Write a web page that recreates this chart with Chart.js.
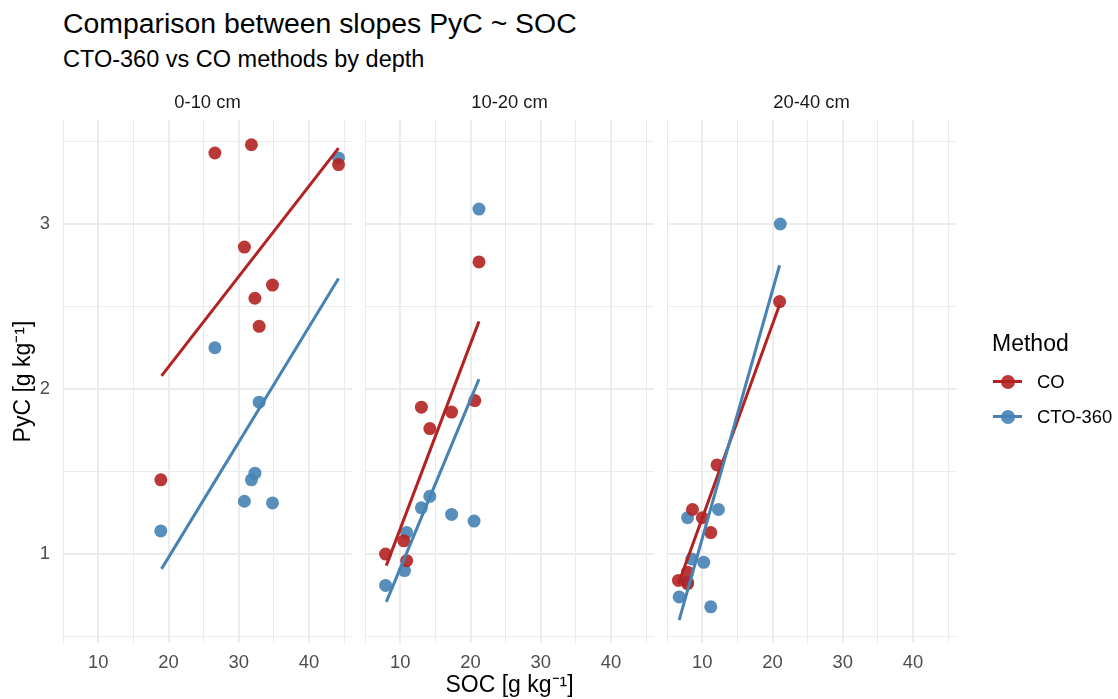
<!DOCTYPE html>
<html>
<head>
<meta charset="utf-8">
<title>Comparison between slopes PyC ~ SOC</title>
<script src="https://cdn.jsdelivr.net/npm/chart.js@4.4.1/dist/chart.umd.min.js"></script>
<style>
    html, body { margin: 0; padding: 0; background: #ffffff; }
    body {
        position: relative; width: 1118px; height: 699px; overflow: hidden;
        font-family: "Liberation Sans", Arial, sans-serif;
    }
    canvas { position: absolute; left: 0; top: 0; }
    .txt { position: absolute; white-space: nowrap; line-height: 1; }
    #title    { left: 63px; top: 8.5px;  font-size: 28.4px; color: #000; }
    #subtitle { left: 63px; top: 47.5px; font-size: 23.5px; color: #000; }
    #leg-title { left: 992px; top: 332px; font-size: 23px; color: #000; }
    .leg-label { left: 1037px; font-size: 18.4px; color: #000; }
    .key-line { position: absolute; left: 993px; width: 29px; height: 3px; }
    .key-dot  { position: absolute; left: 1000.7px; width: 14px; height: 14px; border-radius: 50%; }
</style>
</head>
<body>

<div id="title" class="txt">Comparison between slopes PyC ~ SOC</div>
<div id="subtitle" class="txt">CTO-360 vs CO methods by depth</div>

<canvas id="panel-0" width="1118" height="699"></canvas>
<canvas id="panel-1" width="1118" height="699"></canvas>
<canvas id="panel-2" width="1118" height="699"></canvas>

<div id="legend"></div>

<script>
// ── Data ─────────────────────────────────────────────────────────────────────

const depths  = ["0-10 cm", "10-20 cm", "20-40 cm"];
const methods = ["CO", "CTO-360"];

// SOC [g/kg] (x) and PyC [g/kg] (y), one inner array per depth
const socCO  = [
    [26.6, 31.8, 44.2, 30.8, 34.8, 32.3, 32.9, 18.9],
    [21.2, 13.0, 17.3, 20.6, 14.2, 10.5, 7.9, 10.9],
    [21.0, 12.1, 8.6, 10.0, 11.2, 7.9, 6.6, 7.9],
];
const pycCO  = [
    [3.43, 3.48, 3.36, 2.86, 2.63, 2.55, 2.38, 1.45],
    [2.77, 1.89, 1.86, 1.93, 1.76, 1.08, 1.00, 0.96],
    [2.53, 1.54, 1.27, 1.22, 1.13, 0.89, 0.84, 0.82],
];
const socCTO = [
    [44.2, 26.6, 32.9, 32.3, 31.8, 30.8, 34.8, 18.9],
    [21.2, 14.2, 13.0, 17.3, 20.5, 10.9, 10.6, 7.9],
    [21.1, 12.3, 7.9, 8.5, 10.2, 7.9, 6.7, 11.2],
];
const pycCTO = [
    [3.40, 2.25, 1.92, 1.49, 1.45, 1.32, 1.31, 1.14],
    [3.09, 1.35, 1.28, 1.24, 1.20, 1.13, 0.90, 0.81],
    [3.00, 1.27, 1.22, 0.97, 0.95, 0.83, 0.74, 0.68],
];

// Linear fits: [start, end] as drawn in the picture
const fitSocCO  = [[19.0, 44.2], [8.0, 21.2], [6.6, 21.0]];
const fitPycCO  = [[2.08, 3.46], [0.93, 2.41], [0.82, 2.51]];
const fitSocCTO = [[19.0, 44.2], [8.0, 21.2], [6.7, 21.0]];
const fitPycCTO = [[0.91, 2.67], [0.71, 2.06], [0.60, 2.75]];

const xTickLabels = [10, 20, 30, 40];
const yTickLabels = [1, 2, 3];

// ── Style ────────────────────────────────────────────────────────────────────

const FONT   = "'Liberation Sans', Arial, sans-serif";
const RED    = "#B22222";
const BLUE   = "#4682B4";
const RED_A  = "rgba(178, 34, 34, 0.9)";
const BLUE_A = "rgba(70, 130, 180, 0.9)";
const GRID   = "#ebebeb";

// pixel frame of the three facets (ggplot layout)
const panelLeft  = [63, 365, 667];
const panelRight = [352, 654, 956];
const W = 1118;

Chart.defaults.font.family = FONT;

// ── Helpers ──────────────────────────────────────────────────────────────────

const zip = (xs, ys) => xs.map((x, i) => ({ x, y: ys[i] }));
const isMajor = (list, v) => list.some(t => Math.abs(t - v) < 1e-6);

function panelConfig(k) {
    const first = k === 0;
    return {
        type: "scatter",
        data: {
            datasets: [
                { label: "CTO-360 fit", data: zip(fitSocCTO[k], fitPycCTO[k]), showLine: true,
                  borderColor: BLUE, borderWidth: 3, pointRadius: 0, order: 1 },
                { label: "CO fit", data: zip(fitSocCO[k], fitPycCO[k]), showLine: true,
                  borderColor: RED, borderWidth: 3, pointRadius: 0, order: 2 },
                { label: "CO", data: zip(socCO[k], pycCO[k]),
                  backgroundColor: RED_A, borderWidth: 0, pointRadius: 6.5, order: 3 },
                { label: "CTO-360", data: zip(socCTO[k], pycCTO[k]),
                  backgroundColor: BLUE_A, borderWidth: 0, pointRadius: 6.5, order: 4 },
            ],
        },
        options: {
            responsive: false,
            animation:  false,
            events:     [],
            layout: {
                padding: {
                    left:   first ? 0 : panelLeft[k],
                    right:  W - panelRight[k],
                    top:    92,
                    bottom: 2,
                },
            },
            plugins: {
                legend:  { display: false },
                tooltip: { enabled: false },
                // facet strip label
                title: {
                    display: true, text: depths[k], fullSize: false,
                    color: "#1a1a1a", font: { size: 18.4, weight: "normal" },
                    padding: { top: 0, bottom: 5.92 },
                },
            },
            scales: {
                x: {
                    type: "linear", min: 4.97, max: 46.12,
                    afterFit: s => { s.height = 54; },
                    border: { display: false },
                    grid: {
                        color: GRID, drawTicks: false,
                        lineWidth: c => isMajor(xTickLabels, c.tick.value) ? 1.9 : 1.0,
                    },
                    ticks: {
                        stepSize: 5, includeBounds: false, padding: 9, maxRotation: 0,
                        autoSkip: false, color: "#4d4d4d", font: { size: 18.4 },
                        callback: v => isMajor(xTickLabels, v) ? String(v) : "",
                    },
                    title: {
                        display: k === 1, text: "SOC [g kg\u207B\u00B9]", color: "#000",
                        font: { size: 23, lineHeight: 1 }, padding: { top: 0, bottom: 0 },
                    },
                },
                y: {
                    type: "linear", min: 0.461, max: 3.630,
                    afterFit: s => { s.width = first ? 63 : 0; },
                    border: { display: false },
                    grid: {
                        color: GRID, drawTicks: false,
                        lineWidth: c => isMajor(yTickLabels, c.tick.value) ? 1.9 : 1.0,
                    },
                    ticks: {
                        display: first, stepSize: 0.5, includeBounds: false, padding: 13,
                        autoSkip: false, color: "#4d4d4d", font: { size: 18.4 },
                        callback: v => isMajor(yTickLabels, v) ? String(v) : "",
                    },
                    title: {
                        display: first, text: "PyC [g kg\u207B\u00B9]", color: "#000",
                        font: { size: 23, lineHeight: 1 }, padding: { top: 12, bottom: 0 },
                    },
                },
            },
        },
    };
}

// ── Draw the three facets ────────────────────────────────────────────────────

depths.forEach((_, k) => {
    new Chart(document.getElementById("panel-" + k), panelConfig(k));
});

// ── Legend (line + point key, as in ggplot) ──────────────────────────────────

const legend = document.getElementById("legend");
const keyColors = { "CO": [RED, RED_A], "CTO-360": [BLUE, BLUE_A] };
const keyCentre = [381.7, 416.7];

legend.innerHTML = `<div id="leg-title" class="txt">Method</div>` +
    methods.map((m, i) => {
        const [line, dot] = keyColors[m];
        const cy = keyCentre[i];
        return `
            <div class="key-line" style="top:${cy - 1.5}px;background:${line}"></div>
            <div class="key-dot"  style="top:${cy - 7}px;background:${dot}"></div>
            <div class="txt leg-label" style="top:${cy + 6.6 - 15.6}px">${m}</div>`;
    }).join("");
</script>
</body>
</html>
